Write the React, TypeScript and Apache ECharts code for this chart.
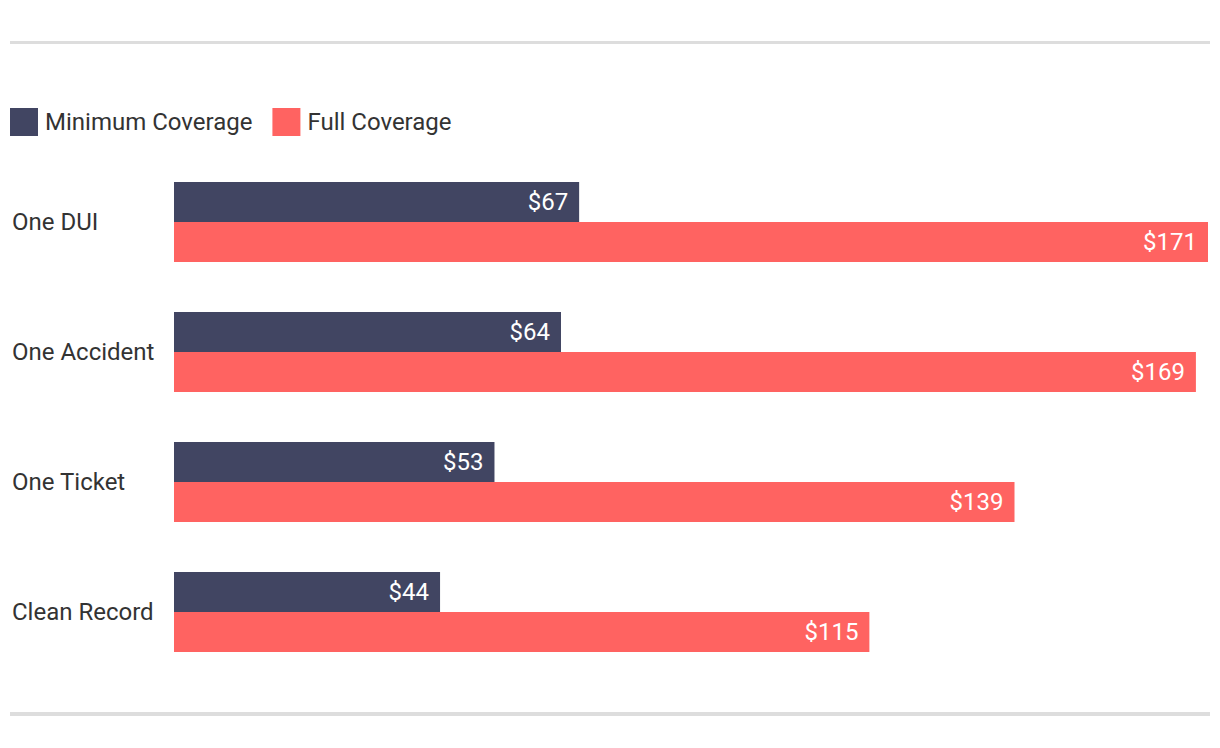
import React, { useEffect, useRef } from "react";
import * as echarts from "echarts";

const categories = ["One DUI", "One Accident", "One Ticket", "Clean Record"];
const minimumCoverage = [67, 64, 53, 44];
const fullCoverage = [171, 169, 139, 115];
const seriesNames = ["Minimum Coverage", "Full Coverage"];
const colors = ["#414562", "#ff6361"];

export default function App() {
  const ref = useRef<HTMLDivElement>(null);
  useEffect(() => {
    if (!ref.current) return;
    const chart = echarts.init(ref.current, undefined, { renderer: "svg" });
    const font = "Roboto, 'Noto Sans', sans-serif";
    const label = {
      show: true,
      position: "insideRight",
      distance: 11,
      color: "#ffffff",
      fontSize: 24,
      fontFamily: font,
      formatter: (p: any) => "$" + p.value,
    };
    chart.setOption({
      animation: false,
      color: colors,
      textStyle: { fontFamily: font },
      graphic: [
        { type: "rect", shape: { x: 10, y: 41, width: 1200, height: 3 }, style: { fill: "#dddddd" } },
        { type: "rect", shape: { x: 10, y: 712, width: 1200, height: 4 }, style: { fill: "#dddddd" } },
      ],
      legend: {
        left: 10,
        top: 108,
        padding: 0,
        itemWidth: 28,
        itemHeight: 28,
        itemGap: 20,
        icon: "rect",
        textStyle: { fontSize: 24, color: "#333333", fontFamily: font, padding: [0, 0, 3, 2] },
        data: seriesNames,
      },
      grid: { left: 174, right: 12, top: 157, bottom: 71, containLabel: false },
      xAxis: {
        type: "value",
        min: 0,
        max: 171,
        show: false,
      },
      yAxis: {
        type: "category",
        data: categories,
        inverse: true,
        axisLine: { show: false },
        axisTick: { show: false },
        axisLabel: {
          align: "left",
          margin: 162,
          fontSize: 24,
          color: "#333333",
          fontFamily: font,
        },
      },
      series: [
        {
          name: seriesNames[0],
          type: "bar",
          data: minimumCoverage,
          barWidth: 40,
          barGap: "0%",
          label,
        },
        {
          name: seriesNames[1],
          type: "bar",
          data: fullCoverage,
          barWidth: 40,
          barGap: "0%",
          label,
        },
      ],
    });
    return () => chart.dispose();
  }, []);
  return (
    <div
      ref={ref}
      style={{ position: "fixed", left: 0, top: 0, width: 1220, height: 748, background: "#ffffff" }}
    />
  );
}
